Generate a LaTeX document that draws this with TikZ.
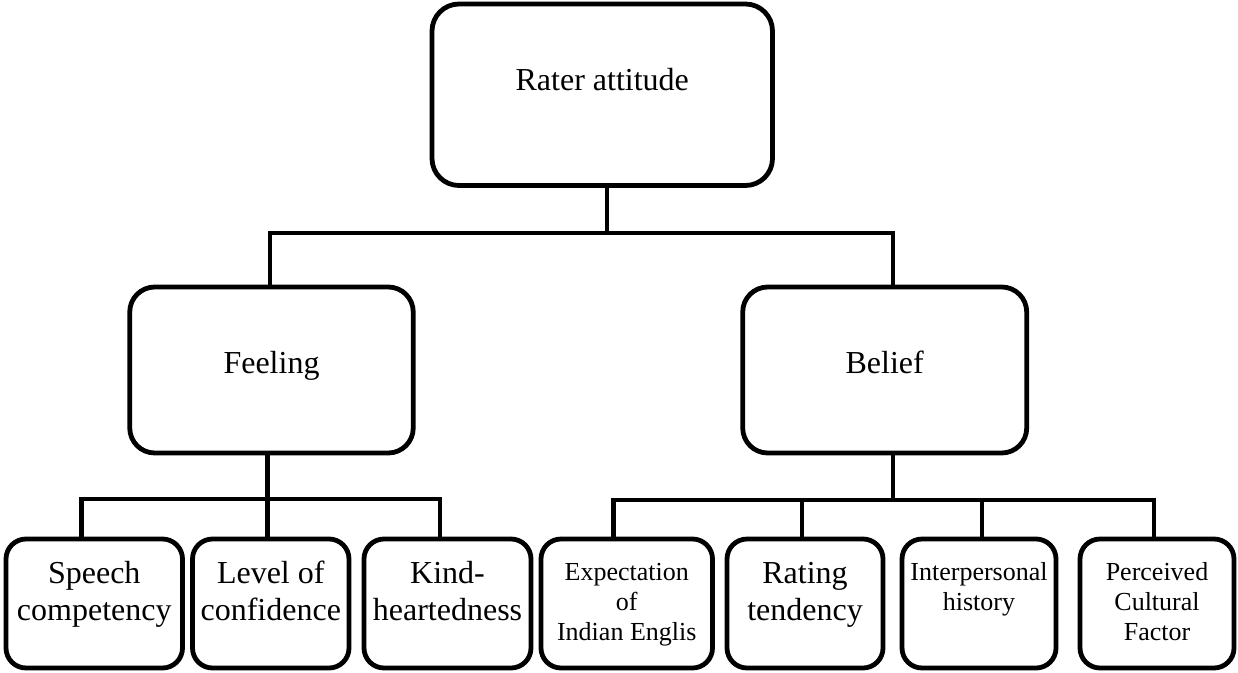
\documentclass[tikz,border=0pt]{standalone}
\usepackage{fontspec}
\setmainfont{Liberation Serif}
% centred multi-line label whose baseline is that of its first line
\newcommand{\stacklines}[1]{\begin{tabular}[t]{@{}c@{}}#1\end{tabular}}
\begin{document}
\begin{tikzpicture}[x=1pt,y=-1pt,
  boxbase/.style={draw, line width=4.8pt, inner sep=0pt, outer sep=0pt, fill=white},
  topbox/.style={boxbase, rounded corners=27pt, minimum width=340.5pt, minimum height=181.5pt},
  midbox/.style={boxbase, rounded corners=25pt, minimum width=283.5pt, minimum height=166pt},
  leafbox/.style={boxbase, rounded corners=20pt, minimum height=129pt, minimum width=#1},
  conn/.style={line width=4.4pt, line join=miter},
  bigtxt/.style={font=\fontsize{32}{37}\selectfont, inner sep=0pt, anchor=base},
  smalltxt/.style={font=\fontsize{26}{30}\selectfont, inner sep=0pt, anchor=base}
]
\useasboundingbox (0,0) rectangle (1238,672);

% boxes
\node[topbox] (top) at (602.25,94.75) {};
\node[midbox] (feel) at (271.5,370) {};
\node[midbox, minimum width=284pt] (bel) at (884.7,370) {};
\node[leafbox=176.5pt] (sp) at (94.25,603.5) {};
\node[leafbox=156.5pt] (lc) at (270.75,603.5) {};
\node[leafbox=167pt]   (kh) at (447.5,603.5) {};
\node[leafbox=171.5pt] (ex) at (626.75,603.5) {};
\node[leafbox=156pt]   (rt) at (805,603.5) {};
\node[leafbox=154pt]   (ip) at (979,603.5) {};
\node[leafbox=154pt]   (pc) at (1157,603.5) {};

% labels
\node[bigtxt] (toptxt) at ([yshift=-86pt]top.north) {Rater attitude};
\node[bigtxt] (feeltxt) at ([yshift=-86pt]feel.north) {Feeling};
\node[bigtxt] (beltxt) at ([yshift=-86pt]bel.north) {Belief};
\node[bigtxt] (sptxt) at ([yshift=-44pt]sp.north) {\stacklines{Speech\\competency}};
\node[bigtxt] (lctxt) at ([yshift=-44pt]lc.north) {\stacklines{Level of\\confidence}};
\node[bigtxt] (khtxt) at ([yshift=-44pt]kh.north) {\stacklines{Kind-\\heartedness}};
\node[smalltxt] (extxt) at ([yshift=-41pt]ex.north) {\stacklines{Expectation\\of\\Indian Englis}};
\node[bigtxt] (rttxt) at ([yshift=-44pt]rt.north) {\stacklines{Rating\\tendency}};
\node[smalltxt] (iptxt) at ([yshift=-41pt]ip.north) {\stacklines{Interpersonal\\history}};
\node[smalltxt] (pctxt) at ([yshift=-41pt]pc.north) {\stacklines{Perceived\\Cultural\\Factor}};

% junction points of the tree
\coordinate (jtop) at (607,233);
\coordinate (jfeel) at (270,233);
\coordinate (jbel) at (893,233);
\coordinate (jsp) at (81.5,499);
\coordinate (jlc) at (267.5,499);
\coordinate (jkh) at (440,499);
\coordinate (jex) at (613.5,500);
\coordinate (jrt) at (802,500);
\coordinate (jb) at (893,500);
\coordinate (jip) at (982,500);
\coordinate (jpc) at (1154,500);

% first level
\draw[conn] (top.south -| jtop) -- (jtop);
\draw[conn] (feel.north -| jfeel) -- (jfeel) -- (jbel) -- (bel.north -| jbel);

% feeling branch
\draw[conn] (sp.north -| jsp) -- (jsp) -- (jkh) -- (kh.north -| jkh);
\draw[conn] (feel.south -| jlc) -- (lc.north -| jlc);

% belief branch
\draw[conn] (ex.north -| jex) -- (jex) -- (jpc) -- (pc.north -| jpc);
\draw[conn] (bel.south -| jb) -- (jb);
\draw[conn] (rt.north -| jrt) -- (jrt);
\draw[conn] (ip.north -| jip) -- (jip);
\end{tikzpicture}
\end{document}
